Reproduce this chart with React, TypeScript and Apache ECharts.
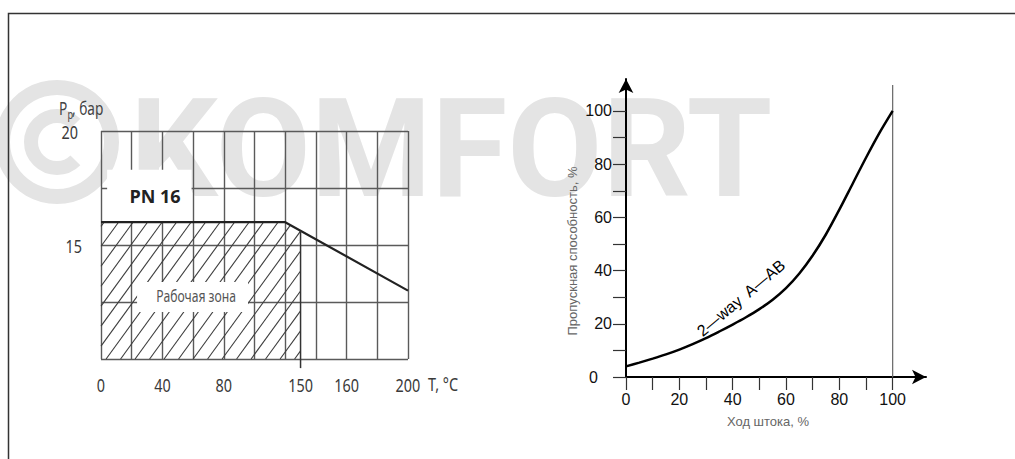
import React, { useEffect, useRef } from 'react';
import * as echarts from 'echarts';

// ---- Left chart: pressure vs temperature ----
const tempTickValues = [0, 40, 80, 130, 160, 200];
const tempTickLabels = ['0', '40', '80', '150', '160', '200'];
const pressureTickValues = [15, 20];
const pressureTickLabels = ['15', '20'];
const pressureLimit = [[0, 16], [120, 16], [200, 13]];
const workZone = [[0, 10], [0, 16], [120, 16], [130, 15.625], [130, 10]];
const zoneEdge = [[130, 15.625], [130, 9.6]];

// ---- Right chart: flow characteristic ----
const strokePct = [0, 5, 10, 15, 20, 25, 30, 35, 40, 45, 50, 55, 60, 65, 70, 75, 80, 85, 90, 95, 100];
const flowPct = [4, 5.4, 6.9, 8.5, 10.3, 12.35, 14.6, 17.1, 19.7, 22.45, 25.5, 29.05, 33.4, 38.9, 45.65, 53.65, 62.9, 72.65, 82.4, 91.65, 100];
const strokeLabelValues = [0, 20, 40, 60, 80, 100];
const strokeTickValues = [0, 10, 20, 30, 40, 50, 60, 70, 80, 90, 100];
const flowLabelValues = [0, 20, 40, 60, 80, 100];
const flowTickValues = [0, 10, 20, 30, 40, 50, 60, 70, 80, 90, 100];
const fullOpenLine = [[100, 0], [100, 109.7]];

const NARROW = "'Noto Sans', 'Open Sans', sans-serif";
const NARROW_SCALE = 0.76;
const ARIAL = "'Liberation Sans', Arial, sans-serif";
const WM = '#e4e4e4';

function cross(u: number[], v: number[]) {
  return u[0] * v[1] - u[1] * v[0];
}

function clipLine(p0: number[], d: number[], poly: number[][]) {
  const ts: number[] = [];
  for (let i = 0; i < poly.length; i++) {
    const a = poly[i];
    const b = poly[(i + 1) % poly.length];
    const e = [b[0] - a[0], b[1] - a[1]];
    const den = cross(d, e);
    if (Math.abs(den) < 1e-9) continue;
    const w = [a[0] - p0[0], a[1] - p0[1]];
    const t = cross(w, e) / den;
    const s = cross(w, d) / den;
    if (s >= -1e-9 && s <= 1 + 1e-9) ts.push(t);
  }
  if (ts.length < 2) return null;
  const t0 = Math.min(...ts);
  const t1 = Math.max(...ts);
  if (t1 - t0 < 0.5) return null;
  return [p0[0] + t0 * d[0], p0[1] + t0 * d[1], p0[0] + t1 * d[0], p0[1] + t1 * d[1]];
}

function narrowText(x: number, y: number, text: string, fontSize: number, align: string, fill = '#3a3a3a') {
  return {
    type: 'text',
    x,
    y,
    scaleX: NARROW_SCALE,
    style: { text, fill, fontSize, fontFamily: NARROW, align, verticalAlign: 'middle' },
  };
}

export default function App() {
  const ref = useRef<HTMLDivElement>(null);
  useEffect(() => {
    if (!ref.current) return;
    const chart = echarts.init(ref.current, null, { renderer: 'svg' });
    const hatchAngle = (54 * Math.PI) / 180;
    const hatchStep = 14.5;

    const option: any = {
      animation: false,
      backgroundColor: '#fff',
      grid: [
        { left: 101, top: 131, width: 307, height: 228, show: false },
        { left: 626, top: 79, width: 300, height: 298, show: false },
      ],
      xAxis: [
        {
          gridIndex: 0,
          type: 'value',
          min: 0,
          max: 200,
          interval: 20,
          axisLine: { show: false },
          axisTick: { show: false },
          axisLabel: { show: false },
          splitLine: { show: true, showMinLine: true, showMaxLine: true, lineStyle: { color: '#5a5a5a', width: 1.4 } },
        },
        {
          gridIndex: 1,
          type: 'value',
          min: 0,
          max: 112.5,
          axisLine: {
            show: true,
            symbol: ['none', 'arrow'],
            symbolSize: [11, 14],
            lineStyle: { color: '#000', width: 2 },
          },
          axisTick: {
            show: true,
            customValues: strokeTickValues,
            length: 13,
            lineStyle: { color: '#333', width: 1.2 },
          },
          splitLine: { show: false },
          axisLabel: {
            customValues: strokeLabelValues,
            margin: 14,
            color: '#111',
            fontSize: 16,
            fontFamily: ARIAL,
          },
        },
      ],
      yAxis: [
        {
          gridIndex: 0,
          type: 'value',
          min: 10,
          max: 20,
          interval: 2.5,
          axisLine: { show: false },
          axisTick: { show: false },
          axisLabel: { show: false },
          splitLine: { show: true, showMinLine: true, showMaxLine: true, lineStyle: { color: '#5a5a5a', width: 1.4 } },
        },
        {
          gridIndex: 1,
          type: 'value',
          min: 0,
          max: 112,
          axisLine: {
            show: true,
            symbol: ['none', 'arrow'],
            symbolSize: [11, 14],
            lineStyle: { color: '#000', width: 2 },
          },
          axisTick: {
            show: true,
            customValues: flowTickValues,
            length: 13,
            lineStyle: { color: '#333', width: 1.2 },
          },
          splitLine: { show: false },
          axisLabel: {
            customValues: flowLabelValues,
            margin: 14,
            color: '#111',
            fontSize: 16,
            fontFamily: ARIAL,
            formatter: (v: number) => (v === 0 ? '{z|0}' : String(v)),
            rich: { z: { fontSize: 16, fontFamily: ARIAL, color: '#111', padding: [0, 14, 0, 0] } },
          },
        },
      ],
      series: [
        {
          type: 'custom',
          xAxisIndex: 0,
          yAxisIndex: 0,
          silent: true,
          clip: false,
          z: 2,
          data: [0],
          renderItem: (params: any, api: any) => {
            const poly = workZone.map((p) => api.coord(p));
            const xs = poly.map((p: number[]) => p[0]);
            const ys = poly.map((p: number[]) => p[1]);
            const minX = Math.min(...xs);
            const maxX = Math.max(...xs);
            const minY = Math.min(...ys);
            const maxY = Math.max(...ys);
            const k = Math.tan(hatchAngle);
            const d = [1, -k];
            const children: any[] = [];
            const span = (maxY - minY) / k;
            for (let x0 = minX - span + 3; x0 <= maxX; x0 += hatchStep) {
              const seg = clipLine([x0, maxY], d, poly);
              if (seg) {
                children.push({
                  type: 'line',
                  shape: { x1: seg[0], y1: seg[1], x2: seg[2], y2: seg[3] },
                  style: { stroke: '#3c3c3c', lineWidth: 1.1 },
                });
              }
            }
            // white box behind "PN 16"
            const a = api.coord([4, 18.3]);
            const b = api.coord([59, 16]);
            children.push({
              type: 'rect',
              shape: { x: a[0], y: a[1], width: b[0] - a[0], height: b[1] - a[1] - 1 },
              style: { fill: '#fff' },
            });
            const pn = api.coord([35.2, 17.15]);
            children.push({
              type: 'text',
              x: pn[0],
              y: pn[1],
              style: {
                text: 'PN 16',
                fill: '#222',
                fontSize: 18,
                fontWeight: 'bold',
                fontFamily: "'Open Sans', 'Noto Sans', sans-serif",
                align: 'center',
                verticalAlign: 'middle',
              },
            });
            // white box behind "Рабочая зона"
            const c = api.coord([23.5, 13.38]);
            const e = api.coord([95.8, 12.06]);
            children.push({
              type: 'rect',
              shape: { x: c[0], y: c[1], width: e[0] - c[0], height: e[1] - c[1] },
              style: { fill: '#fff' },
            });
            const wz = api.coord([62, 12.75]);
            children.push(narrowText(wz[0], wz[1], 'Рабочая зона', 16, 'center', '#555'));
            // axis tick labels (condensed)
            tempTickValues.forEach((v, i) => {
              const p = api.coord([v, 10]);
              children.push(narrowText(p[0], p[1] + 26, tempTickLabels[i], 19, 'center'));
            });
            pressureTickValues.forEach((v, i) => {
              const p = api.coord([0, v]);
              children.push(narrowText(p[0] - 19 - i * 4, p[1] + 1, pressureTickLabels[i], 19, 'right'));
            });
            return { type: 'group', children };
          },
        },
        {
          type: 'line',
          xAxisIndex: 0,
          yAxisIndex: 0,
          data: pressureLimit,
          symbol: 'none',
          z: 3,
          lineStyle: { color: '#222', width: 2.2 },
        },
        {
          type: 'line',
          xAxisIndex: 0,
          yAxisIndex: 0,
          data: zoneEdge,
          symbol: 'none',
          clip: false,
          z: 3,
          lineStyle: { color: '#333', width: 1.5 },
        },
        {
          type: 'line',
          xAxisIndex: 1,
          yAxisIndex: 1,
          data: fullOpenLine,
          symbol: 'none',
          z: 2,
          lineStyle: { color: '#666', width: 1.2 },
        },
        {
          type: 'line',
          xAxisIndex: 1,
          yAxisIndex: 1,
          data: strokePct.map((x, i) => [x, flowPct[i]]),
          symbol: 'none',
          smooth: 0.3,
          z: 3,
          lineStyle: { color: '#000', width: 2.5 },
        },
      ],
      graphic: {
        elements: [
          // watermark
          {
            type: 'ring',
            z: -10,
            silent: true,
            shape: { cx: 57, cy: 142, r: 62, r0: 47 },
            style: { fill: WM },
          },
          {
            type: 'arc',
            z: -10,
            silent: true,
            shape: { cx: 57, cy: 142, r: 26, startAngle: Math.PI / 4, endAngle: (7 * Math.PI) / 4, clockwise: true },
            style: { stroke: WM, lineWidth: 14, fill: 'none' },
          },
          {
            type: 'text',
            z: -10,
            silent: true,
            x: 130,
            y: 149,
            style: {
              text: 'KOMFORT',
              fill: WM,
              fontSize: 138,
              lineHeight: 104,
              fontWeight: 'bold',
              fontFamily: 'Roboto, sans-serif',
              align: 'left',
              verticalAlign: 'middle',
            },
          },
          // frame
          {
            type: 'polyline',
            silent: true,
            shape: { points: [[8.5, 459], [8.5, 13.5], [1015, 13.5]] },
            style: { stroke: '#333', lineWidth: 1.5, fill: 'none' },
          },
          // left axis titles (condensed)
          narrowText(59, 108, 'P', 18, 'left', '#444'),
          narrowText(67.5, 114, 'p', 12, 'left', '#444'),
          narrowText(72, 108, ', бар', 18, 'left', '#444'),
          narrowText(428, 384, 'T, °C', 19, 'left'),
          // right chart titles
          {
            type: 'text',
            x: 768,
            y: 421,
            style: { text: 'Ход штока, %', fill: '#666', fontSize: 13, fontFamily: ARIAL, align: 'center', verticalAlign: 'middle' },
          },
          {
            type: 'text',
            x: 572,
            y: 251,
            rotation: Math.PI / 2,
            style: {
              text: 'Пропускная способность, %',
              fill: '#666',
              fontSize: 13,
              fontFamily: ARIAL,
              align: 'center',
              verticalAlign: 'middle',
            },
          },
          {
            type: 'text',
            x: 741,
            y: 298,
            rotation: (40 * Math.PI) / 180,
            style: {
              text: '2—way  A—AB',
              fill: '#000',
              fontSize: 16,
              fontFamily: ARIAL,
              align: 'center',
              verticalAlign: 'middle',
            },
          },
        ],
      },
    };
    chart.setOption(option);
    return () => chart.dispose();
  }, []);
  return (
    <div
      ref={ref}
      style={{ position: 'fixed', left: 0, top: 0, width: 1015, height: 459 }}
    />
  );
}
